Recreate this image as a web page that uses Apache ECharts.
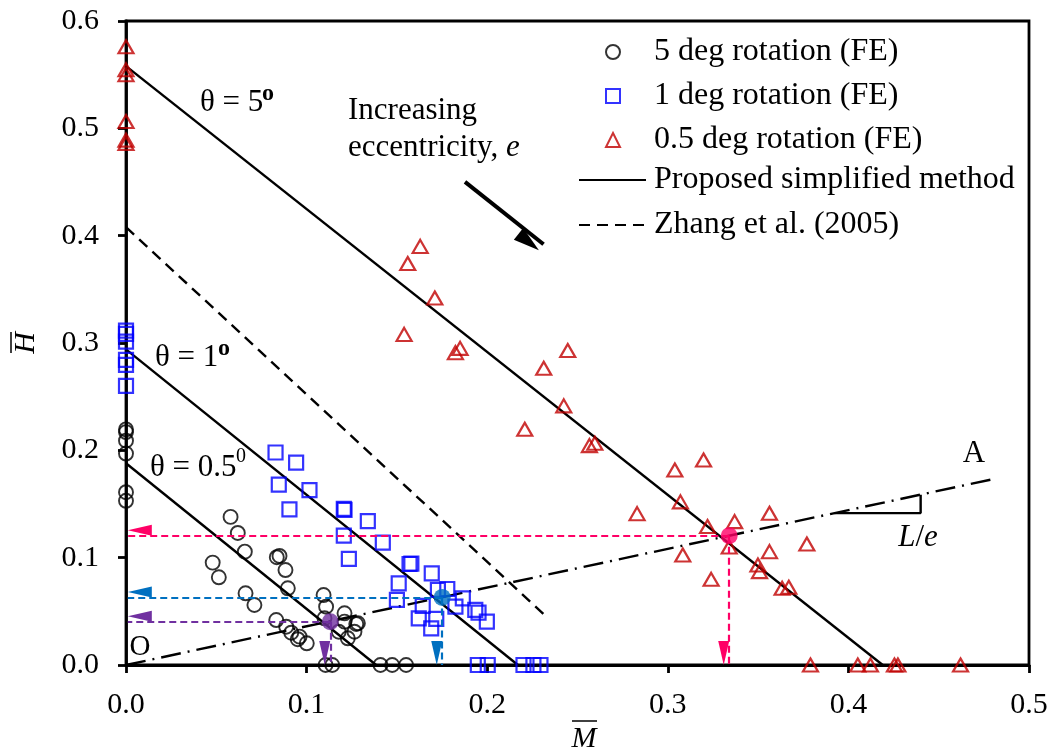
<!DOCTYPE html>
<html><head><meta charset="utf-8">
<script src="https://cdn.jsdelivr.net/npm/echarts@6/dist/echarts.min.js"></script>
<style>html,body{margin:0;padding:0;background:#fff}#c{width:1055px;height:756px}</style>
</head><body><div id="c"></div>
<script>
// ---------- data ----------
const xTickLabels = ['0.0', '0.1', '0.2', '0.3', '0.4', '0.5'];
const yTickLabels = ['0.0', '0.1', '0.2', '0.3', '0.4', '0.5', '0.6'];

const rot5 = [
  [0, 0.2195], [0, 0.217], [0, 0.209], [0, 0.197], [0, 0.161], [0, 0.153],
  [0.0579, 0.138], [0.0619, 0.123], [0.0658, 0.1056], [0.048, 0.0954], [0.0514, 0.0817],
  [0.0835, 0.1004], [0.085, 0.1016], [0.0883, 0.0885], [0.0896, 0.0715], [0.0662, 0.0668],
  [0.0711, 0.0559], [0.0832, 0.0419], [0.0887, 0.0357], [0.0915, 0.0301], [0.0961, 0.0264],
  [0.0951, 0.024], [0.1001, 0.0202], [0.1094, 0.0652], [0.1108, 0.0543], [0.1099, 0.0435],
  [0.121, 0.0482], [0.121, 0.0404], [0.1275, 0.0382], [0.1284, 0.0389], [0.1265, 0.031],
  [0.1178, 0.031], [0.1228, 0.0249],
  [0.1105, 0], [0.1142, 0], [0.1409, 0], [0.1474, 0], [0.1551, 0]
];
const rot1 = [
  [0, 0.3116], [0, 0.3085], [0, 0.3013], [0, 0.2842], [0, 0.2796], [0, 0.26],
  [0.0828, 0.198], [0.0942, 0.1886], [0.0846, 0.168], [0.1016, 0.163], [0.0905, 0.145],
  [0.1206, 0.1455], [0.121, 0.1445], [0.1339, 0.134], [0.1206, 0.1205], [0.1422, 0.114],
  [0.1234, 0.0988], [0.157, 0.0941], [0.158, 0.0945], [0.1693, 0.0854], [0.151, 0.0761],
  [0.1727, 0.0699], [0.1779, 0.0708], [0.15, 0.0606], [0.1865, 0.0621], [0.1643, 0.055],
  [0.1824, 0.0543], [0.1934, 0.0513], [0.1952, 0.0488], [0.1621, 0.0435], [0.1718, 0.0429],
  [0.1998, 0.0404], [0.169, 0.0342],
  [0.1948, 0], [0.2003, 0], [0.2201, 0], [0.2256, 0], [0.2295, 0]
];
const rot05 = [
  [0, 0.576], [0, 0.5545], [0, 0.55], [0, 0.5063], [0, 0.489], [0, 0.486],
  [0.1629, 0.390], [0.156, 0.374], [0.171, 0.342], [0.154, 0.308], [0.1824, 0.291],
  [0.185, 0.295], [0.2446, 0.293], [0.2313, 0.2765], [0.2424, 0.2414], [0.2208, 0.2197],
  [0.2566, 0.2044], [0.2596, 0.2066], [0.3039, 0.1817], [0.3198, 0.191], [0.307, 0.152],
  [0.283, 0.141], [0.337, 0.1336], [0.322, 0.129], [0.3563, 0.1414], [0.334, 0.110],
  [0.3083, 0.1025], [0.377, 0.1128], [0.3563, 0.1056], [0.3499, 0.0932], [0.3508, 0.087],
  [0.324, 0.0798], [0.3633, 0.0715], [0.367, 0.0724],
  [0.379, 0], [0.4052, 0], [0.4122, 0], [0.4255, 0], [0.4274, 0], [0.4621, 0]
];
const theta5Line = [[0, 0.558], [0.419, 0]];
const theta1Line = [[0, 0.294], [0.217, 0]];
const theta05Line = [[0, 0.188], [0.1385, 0]];
const zhangLine = [[0, 0.408], [0.2315, 0.047]];
const oaLine = [[0, 0], [0.481, 0.1735]];
const slopeMark = [[0.3923, 0.1415], [0.44, 0.1415], [0.44, 0.1587]];
const examplePoints = [[0.334, 0.1205], [0.1751, 0.063], [0.1131, 0.0404]];
const exampleColors = ['#FF0066', '#0070C0', '#7030A0'];
const eccArrow = [[0.1877, 0.4501], [0.2312, 0.392]];

// ---------- chart ----------
const FONT = 'Liberation Serif';
const chart = echarts.init(document.getElementById('c'), null, {renderer: 'canvas'});

const arrowLines = [];
examplePoints.forEach((p, i) => {
  const c = exampleColors[i];
  const st = {color: c, width: 2.2, type: [7, 4]};
  arrowLines.push([{coord: [p[0], p[1]], lineStyle: st, itemStyle: {color: c}},
                   {coord: [0.001, p[1]], lineStyle: st, itemStyle: {color: c}}]);
  arrowLines.push([{coord: [p[0], p[1]], lineStyle: st, itemStyle: {color: c}},
                   {coord: [p[0], 0], lineStyle: st, itemStyle: {color: c}}]);
});

function straight(name, data, type, extra) {
  return Object.assign({
    name: name, type: 'line', data: data, symbol: 'none', silent: true,
    itemStyle: {color: '#000'},
    lineStyle: {color: '#000', width: 2.4, type: type || 'solid'}, z: 2, clip: false
  }, extra || {});
}

const legendText = {fontFamily: FONT, fontSize: 32, color: '#000', lineHeight: 31};

const option = {
  animation: false,
  backgroundColor: '#fff',
  grid: {left: 126, top: 21, right: 1055 - 1029, bottom: 756 - 665, show: true,
         borderColor: '#000', borderWidth: 2.8, backgroundColor: 'transparent'},
  xAxis: {
    type: 'value', min: 0, max: 0.5, interval: 0.1,
    axisLine: {show: true, onZero: false, lineStyle: {color: '#000', width: 2.8}},
    axisTick: {show: true, inside: false, length: 8, lineStyle: {color: '#000', width: 2.8}},
    axisLabel: {margin: 25, color: '#000', fontFamily: FONT, fontSize: 30,
                formatter: v => xTickLabels[Math.round(v * 10)]},
    splitLine: {show: false}
  },
  yAxis: {
    type: 'value', min: 0, max: 0.6, interval: 0.1,
    axisLine: {show: true, onZero: false, lineStyle: {color: '#000', width: 2.8}},
    axisTick: {show: true, inside: false, length: 8, lineStyle: {color: '#000', width: 2.8}},
    axisLabel: {margin: 27, color: '#000', fontFamily: FONT, fontSize: 30,
                formatter: v => yTickLabels[Math.round(v * 10)]},
    splitLine: {show: false}
  },
  legend: [
    {
      data: ['5 deg rotation (FE)', '1 deg rotation (FE)', '0.5 deg rotation (FE)'],
      orient: 'vertical', left: 605, top: 36, padding: 0, itemWidth: 14, itemHeight: 14, itemGap: 12,
      selectedMode: false,
      textStyle: Object.assign({padding: [0, 0, 0, 29]}, legendText)
    },
    {
      data: [{name: 'Proposed simplified method', itemStyle: {opacity: 0}},
             {name: 'Zhang et al. (2005)', itemStyle: {opacity: 0}}],
      orient: 'vertical', left: 578, top: 164, padding: 0, itemWidth: 67, itemHeight: 14, itemGap: 13,
      selectedMode: false,
      textStyle: Object.assign({padding: [0, 0, 0, 3]}, legendText)
    }
  ],
  series: [
    straight('Proposed simplified method', theta5Line),
    straight('Proposed simplified method', theta1Line),
    straight('Proposed simplified method', theta05Line),
    straight('Zhang et al. (2005)', zhangLine, [11, 7]),
    straight('OA', oaLine, [20, 7, 2, 7]),
    straight('slope', slopeMark, 'solid'),
    {
      name: '5 deg rotation (FE)', type: 'scatter', data: rot5, symbol: 'circle', symbolSize: 14,
      clip: false, z: 3,
      itemStyle: {color: 'rgba(0,0,0,0)', borderColor: '#000', borderWidth: 1.9}
    },
    {
      name: '1 deg rotation (FE)', type: 'scatter', data: rot1, symbol: 'rect', symbolSize: 14,
      clip: false, z: 3,
      itemStyle: {color: 'rgba(0,0,0,0)', borderColor: '#0000FF', borderWidth: 2.2}
    },
    {
      name: '0.5 deg rotation (FE)', type: 'scatter', data: rot05, symbol: 'triangle', symbolSize: [15, 13],
      clip: false, z: 3,
      itemStyle: {color: 'rgba(0,0,0,0)', borderColor: '#C00000', borderWidth: 2.2}
    },
    {
      name: 'arrows', type: 'scatter', data: [], z: 4,
      markLine: {
        silent: true, animation: false, symbol: ['none', 'triangle'], symbolSize: [11, 24],
        symbolOffset: [0, '50%'],
        label: {show: false}, emphasis: {disabled: true},
        data: arrowLines.concat([[
          {coord: eccArrow[0], lineStyle: {color: '#000', width: 4, type: 'solid'}, itemStyle: {color: '#000'}},
          {coord: eccArrow[1], symbolSize: [15, 26], lineStyle: {color: '#000', width: 4, type: 'solid'}, itemStyle: {color: '#000'}}
        ]])
      }
    },
    {
      name: 'examples', type: 'scatter', z: 5, symbolSize: 17, clip: false,
      data: examplePoints.map((p, i) => ({value: p, itemStyle: {color: exampleColors[i]}}))
    }
  ],
  graphic: [
    {type: 'text', x: 200, y: 103, style: {text: 'θ = 5', font: '31px "Liberation Serif"', fill: '#000', textVerticalAlign: 'middle'}},
    {type: 'text', x: 262, y: 94, style: {text: 'o', font: 'bold 24px "Liberation Serif"', fill: '#000', textVerticalAlign: 'middle'}},
    {type: 'text', x: 155, y: 358, style: {text: 'θ = 1', font: '31px "Liberation Serif"', fill: '#000', textVerticalAlign: 'middle'}},
    {type: 'text', x: 218, y: 349, style: {text: 'o', font: 'bold 24px "Liberation Serif"', fill: '#000', textVerticalAlign: 'middle'}},
    {type: 'text', x: 150, y: 468, style: {text: 'θ = 0.5', font: '31px "Liberation Serif"', fill: '#000', textVerticalAlign: 'middle'}},
    {type: 'text', x: 236, y: 457, style: {text: '0', font: '20px "Liberation Serif"', fill: '#000', textVerticalAlign: 'middle'}},
    {type: 'text', x: 348, y: 111, style: {text: 'Increasing', font: '31px "Liberation Serif"', fill: '#000', textVerticalAlign: 'middle'}},
    {type: 'text', x: 348, y: 148, style: {text: '{n|eccentricity, }{i|e}', fill: '#000', textVerticalAlign: 'middle',
      rich: {n: {fontFamily: FONT, fontSize: 31, fill: '#000'}, i: {fontFamily: FONT, fontSize: 31, fontStyle: 'italic', fill: '#000'}}}},
    {type: 'text', x: 974, y: 454, style: {text: 'A', font: '31px "Liberation Serif"', fill: '#000', textAlign: 'center', textVerticalAlign: 'middle'}},
    {type: 'text', x: 918, y: 538, style: {text: '{i|L}{n|/}{i|e}', fill: '#000', textAlign: 'center', textVerticalAlign: 'middle',
      rich: {n: {fontFamily: FONT, fontSize: 31, fill: '#000'}, i: {fontFamily: FONT, fontSize: 31, fontStyle: 'italic', fill: '#000'}}}},
    {type: 'text', x: 140, y: 647, style: {text: 'O', font: '29px "Liberation Serif"', fill: '#000', textAlign: 'center', textVerticalAlign: 'middle'}},
    {type: 'text', x: 584, y: 739, style: {text: 'M', font: 'italic 30px "Liberation Serif"', fill: '#000', textAlign: 'center', textVerticalAlign: 'middle'}},
    {type: 'line', shape: {x1: 572, y1: 721, x2: 597, y2: 721}, style: {stroke: '#000', lineWidth: 1.5}},
    {type: 'text', x: 26, y: 343, rotation: Math.PI / 2, style: {text: 'H', font: 'italic 30px "Liberation Serif"', fill: '#000', textAlign: 'center', textVerticalAlign: 'middle'}},
    {type: 'line', shape: {x1: 11, y1: 332, x2: 11, y2: 353}, style: {stroke: '#000', lineWidth: 1.5}}
  ]
};
chart.setOption(option);
</script>
</body></html>
